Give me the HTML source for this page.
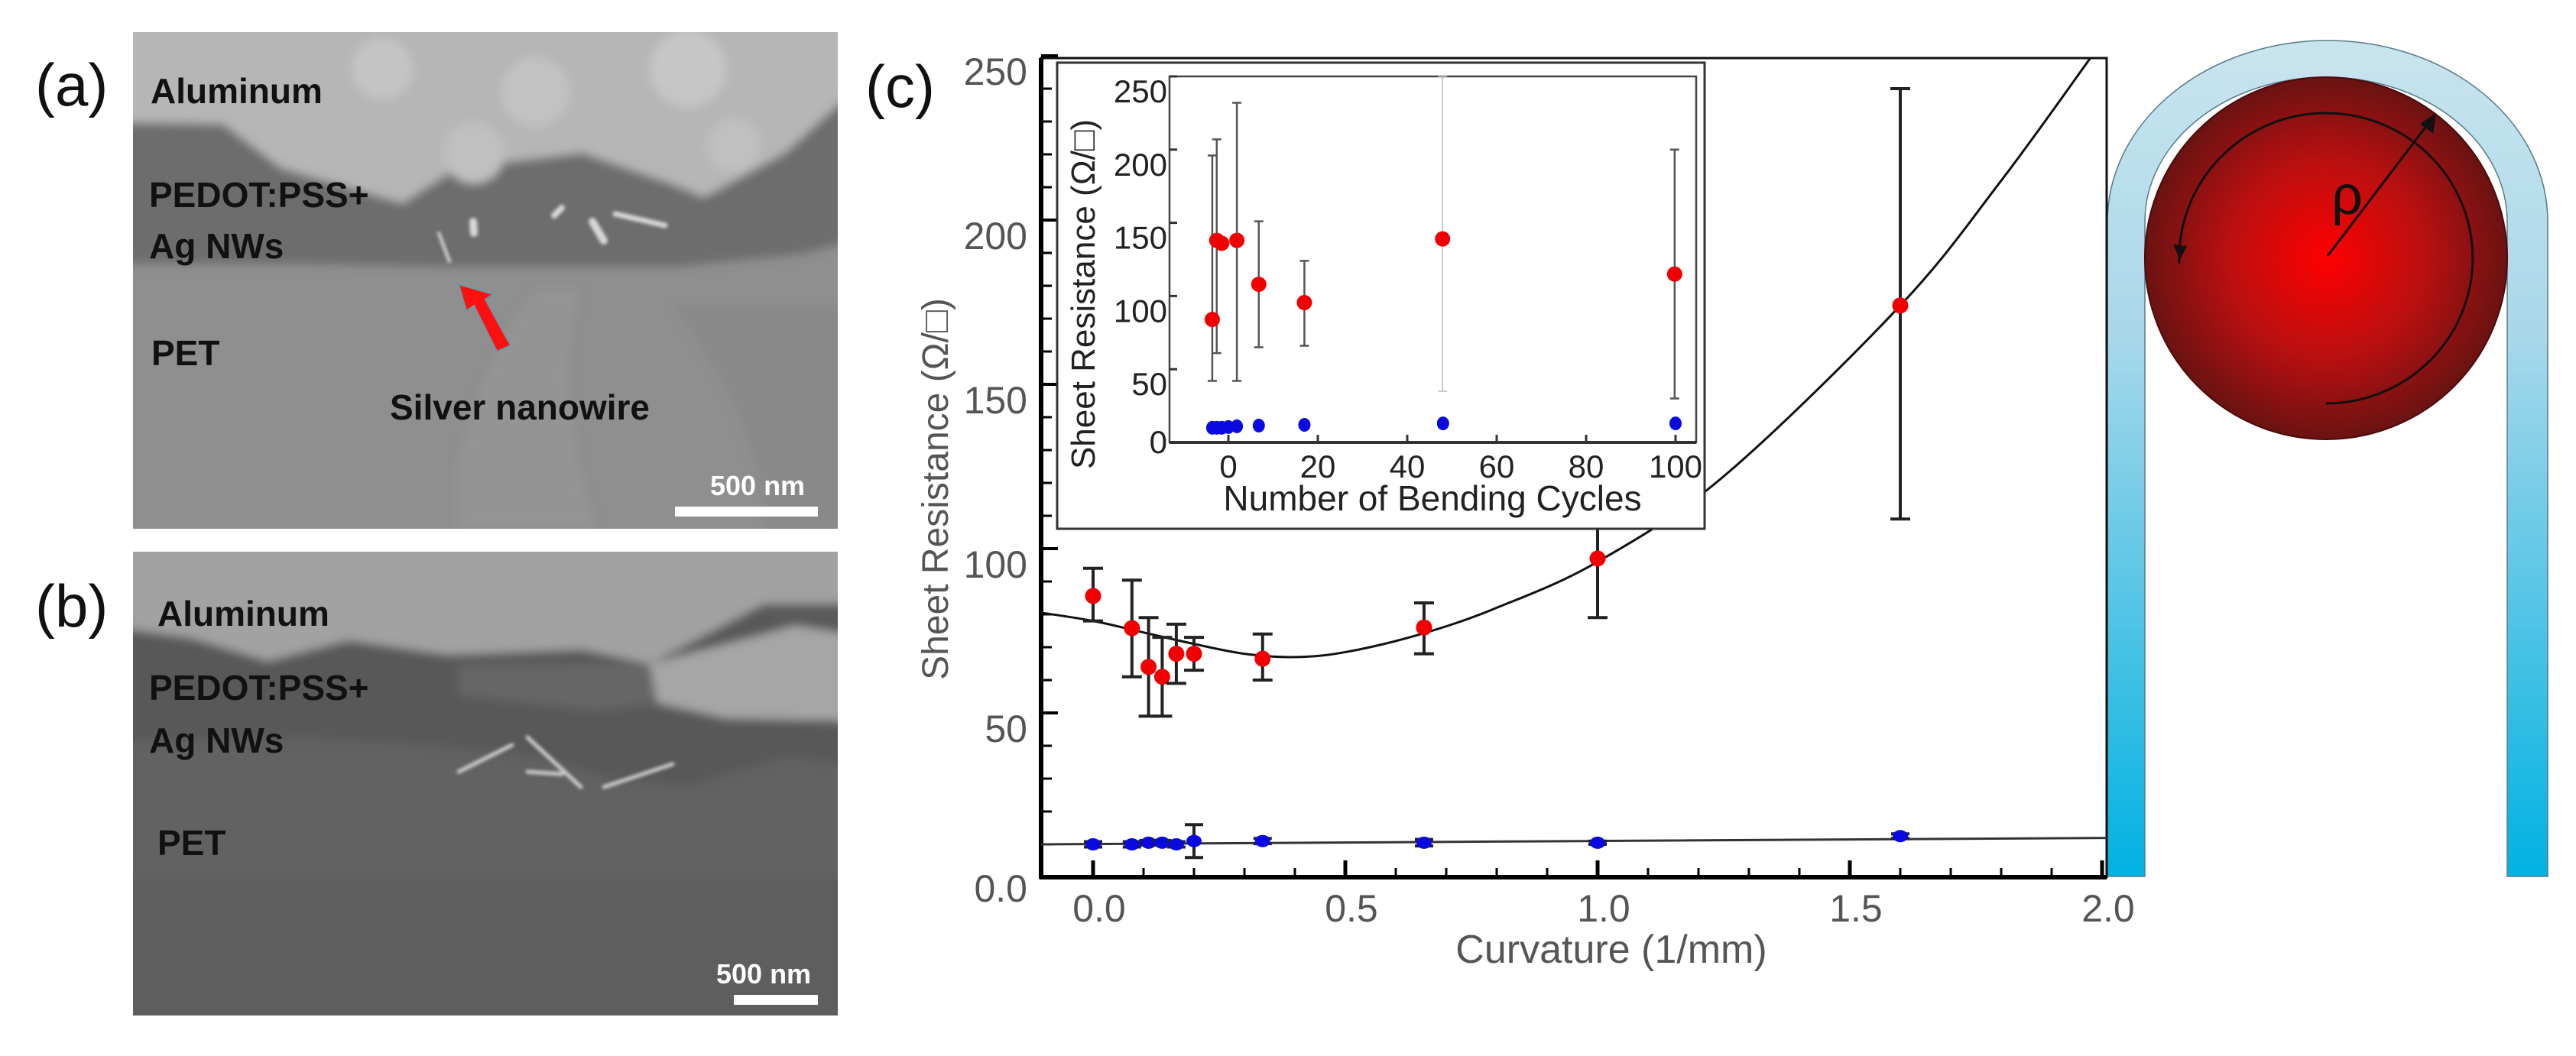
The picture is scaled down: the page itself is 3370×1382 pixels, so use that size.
<!DOCTYPE html>
<html><head><meta charset="utf-8">
<style>
html,body{margin:0;padding:0;background:#fff;}
svg{display:block;}
text{font-family:"Liberation Sans",sans-serif;}
</style></head>
<body>
<svg id="fig" width="3370" height="1382" viewBox="0 0 3370 1382" xmlns="http://www.w3.org/2000/svg">
<defs>
<filter id="blur6" x="-5%" y="-5%" width="110%" height="110%"><feGaussianBlur stdDeviation="6"/></filter>
<filter id="blur2"><feGaussianBlur stdDeviation="2"/></filter>
<clipPath id="clipA"><rect x="174" y="42" width="922" height="650"/></clipPath>
<clipPath id="clipB"><rect x="174" y="722" width="922" height="607"/></clipPath>
<clipPath id="clipMain"><rect x="1362" y="76" width="1394" height="1072"/></clipPath>
<linearGradient id="bandGrad" x1="0" y1="0" x2="0" y2="1">
<stop offset="0" stop-color="#c9e4ee"/><stop offset="0.35" stop-color="#a9d8ea"/><stop offset="1" stop-color="#00b2e2"/></linearGradient>
<radialGradient id="ballGrad" cx="0.5" cy="0.5" r="0.5">
<stop offset="0" stop-color="#ff0000"/><stop offset="0.55" stop-color="#b81010"/><stop offset="1" stop-color="#6a1212"/></radialGradient>
</defs>

<!-- Panel a SEM -->
<g clip-path="url(#clipA)">
<rect x="174" y="42" width="922" height="650" fill="#8f8f8f"/>
<g filter="url(#blur6)">
<path d="M160,30 L1110,30 L1110,125 L1027,200 L921,258 L880,241 L762,200 L597,220 L527,266 L368,220 L292,162 L160,160 Z" fill="#b6b6b6"/>
<path d="M160,160 L292,162 L368,220 L527,266 L597,220 L762,200 L880,241 L921,258 L1027,200 L1110,125 L1110,316 L1050,332 L880,349 L600,349 L400,345 L160,345 Z" fill="#6d6d6d"/>
<circle cx="500" cy="90" r="40" fill="#c4c4c4"/><circle cx="700" cy="120" r="45" fill="#c2c2c2"/><circle cx="900" cy="90" r="50" fill="#c6c6c6"/><circle cx="960" cy="190" r="35" fill="#c0c0c0"/><circle cx="620" cy="200" r="40" fill="#c0c0c0"/>
<path d="M600,600 Q640,450 700,380 L760,380 Q720,500 780,692 L600,692 Z" fill="#9a9a9a" opacity="0.5"/>
<path d="M880,400 Q1000,560 1000,692 L1110,692 L1110,400 Z" fill="#868686" opacity="0.6"/>
</g>
<g filter="url(#blur2)" stroke="#d8d8d8" stroke-linecap="round">
<line x1="574" y1="305" x2="588" y2="342" stroke-width="4"/>
<line x1="619" y1="290" x2="620" y2="305" stroke-width="10"/>
<line x1="725" y1="282" x2="735" y2="272" stroke-width="8"/>
<line x1="775" y1="290" x2="790" y2="315" stroke-width="10"/>
<line x1="805" y1="280" x2="870" y2="295" stroke-width="7"/>
</g>
</g>
<text x="46" y="138" font-size="78" fill="#111">(a)</text>
<g font-weight="bold" font-size="46" fill="#111">
<text x="197" y="135">Aluminum</text>
<text x="195" y="271">PEDOT:PSS+</text>
<text x="195" y="338">Ag NWs</text>
<text x="198" y="478">PET</text>
<text x="510" y="549">Silver nanowire</text>
</g>
<polygon points="600,372 645,385 635,392 668,452 650,460 620,400 610,407" fill="#ff1010" stroke="#6a9aa6" stroke-width="2"/>
<text x="929" y="648" font-size="36" fill="#fff" font-weight="bold">500 nm</text>
<rect x="883" y="663" width="187" height="13" fill="#fff"/>

<!-- Panel b SEM -->
<g clip-path="url(#clipB)">
<rect x="174" y="722" width="922" height="607" fill="#626262"/>
<g filter="url(#blur6)">
<path d="M160,710 L1110,710 L1110,1000 L1030,990 L900,1028 L800,1020 L700,990 L560,975 L400,965 L160,970 Z" fill="#595959"/>
<path d="M160,710 L1110,710 L1110,790 L1000,790 L850,869 L762,850 L586,857 L456,838 L350,865 L250,835 L160,822 Z" fill="#a2a2a2"/>
<path d="M1000,790 L1110,790 L1110,840 L1020,835 Z" fill="#5a5a5a"/>
<path d="M850,869 L1000,830 L1040,819 L1110,830 L1110,943 L950,940 L860,920 Z" fill="#a6a6a6"/>
<path d="M600,870 L850,869 L860,920 L780,930 L600,910 Z" fill="#666"/>
<rect x="160" y="1150" width="950" height="200" fill="#5a5a5a" opacity="0.6"/>
</g>
<g filter="url(#blur2)" stroke="#cfcfcf" stroke-linecap="round" stroke-width="5">
<line x1="600" y1="1010" x2="670" y2="975"/><line x1="690" y1="965" x2="760" y2="1030"/><line x1="790" y1="1030" x2="880" y2="1000"/><line x1="735" y1="1013" x2="690" y2="1010"/>
</g>
</g>
<text x="46" y="820" font-size="78" fill="#111">(b)</text>
<g font-weight="bold" font-size="46" fill="#111">
<text x="206" y="819">Aluminum</text>
<text x="195" y="916">PEDOT:PSS+</text>
<text x="195" y="985">Ag NWs</text>
<text x="206" y="1119">PET</text>
</g>
<text x="937" y="1287" font-size="36" fill="#fff" font-weight="bold">500 nm</text>
<rect x="960" y="1302" width="110" height="13" fill="#fff"/>

<!-- Bending illustration -->
<g>
<path d="M2757,1147 L2757,290 A288,237 0 0 1 3333,290 L3333,1147 L3280,1147 L3280,290 A237,189 0 0 0 2806,290 L2806,1147 Z" fill="url(#bandGrad)" stroke="#5a7a88" stroke-width="1.5"/>
<circle cx="3043" cy="338" r="237" fill="url(#ballGrad)" stroke="#4a0a0a" stroke-width="2"/>
<path d="M2851,345 A192,190 0 1 1 3043,528" fill="none" stroke="#111" stroke-width="3"/>
<polygon points="2843,320 2861,322 2852,340" fill="#111"/>
<line x1="3045" y1="335" x2="3178" y2="160" stroke="#111" stroke-width="3"/>
<polygon points="3187,148 3183,175 3166,162" fill="#111"/>
<text x="3050" y="280" font-size="72" fill="#111">ρ</text>
</g>

<text x="1132" y="140" font-size="78" fill="#111">(c)</text>
<g id="mainChart"></g>
<g id="insetChart"></g>
</svg>

<script>
// ---------- main chart data ----------
const curvX   = [0, 0.077, 0.11, 0.137, 0.165, 0.2, 0.336, 0.656, 1.0, 1.6];
const redVal  = [85.6, 75.8, 64, 61, 68, 68, 66.5, 76, 97, 174];
const redHi   = [94, 90.4, 79, 73, 77, 73, 74, 83.5, 114, 240];
const redLo   = [78, 61, 49, 49, 59, 63, 60, 68, 79, 109];
const blueVal = [10, 10, 10.5, 10.5, 10, 11, 11, 10.5, 10.5, 12.5];
const blueHi  = [10.8, 10.8, 11.2, 11.2, 10.8, 16, 11.8, 11.5, 11, 13.2];
const blueLo  = [9.2, 9.2, 9.8, 9.8, 9.2, 6, 10.2, 9.5, 10, 11.8];
const fitX    = [-0.103, 0, 0.1, 0.2, 0.3, 0.4, 0.5, 0.65, 0.8, 1.0, 1.25, 1.6, 1.8, 1.98, 2.05];
const fitY    = [80.5, 78, 74.5, 71, 68, 67, 68.5, 74, 82, 96, 122, 174, 212, 250, 265];
const blueFitX = [-0.103, 2.05];
const blueFitY = [10, 12];
const xTickLabels = ["0.0", "0.5", "1.0", "1.5", "2.0"];
const xTickVals = [0, 0.5, 1.0, 1.5, 2.0];
const yTickLabels = ["0.0", "50", "100", "150", "200", "250"];
const yTickVals = [0, 50, 100, 150, 200, 250];

// ---------- inset data ----------
const cycX     = [-3.6, -2.6, -1.5, 1.9, 6.8, 17, 47.9, 99.8];
const cycRed   = [84, 138, 136, 138, 108, 95.5, 139, 115];
const cycRedHi = [196, 207, 136, 232, 151, 124, 250, 200];
const cycRedLo = [42, 61, 136, 42, 65, 66, 35, 30];
const cycBlueX = [-3.6, -2.6, -1.5, 0, 1.9, 6.8, 17, 48, 100];
const cycBlue  = [10, 10, 10, 10.5, 11, 11.5, 12, 13, 13];
const inXTickVals = [0, 20, 40, 60, 80, 100];
const inXTickLabels = ["0", "20", "40", "60", "80", "100"];
const inYTickVals = [0, 50, 100, 150, 200, 250];
const inYTickLabels = ["0", "50", "100", "150", "200", "250"];

const NS = "http://www.w3.org/2000/svg";
function mk(parent, tag, attrs) {
  const e = document.createElementNS(NS, tag);
  for (const k in attrs) e.setAttribute(k, attrs[k]);
  parent.appendChild(e);
  return e;
}
function smoothPath(pts) {
  let d = "M" + pts[0][0] + "," + pts[0][1];
  for (let i = 0; i < pts.length - 1; i++) {
    const p0 = pts[i - 1] || pts[i], p1 = pts[i], p2 = pts[i + 1], p3 = pts[i + 2] || p2;
    const c1x = p1[0] + (p2[0] - p0[0]) / 6, c1y = p1[1] + (p2[1] - p0[1]) / 6;
    const c2x = p2[0] - (p3[0] - p1[0]) / 6, c2y = p2[1] - (p3[1] - p1[1]) / 6;
    d += " C" + c1x + "," + c1y + " " + c2x + "," + c2y + " " + p2[0] + "," + p2[1];
  }
  return d;
}

// ---------- main chart ----------
const X0 = 1362, X1 = 2756, YT = 76, YB = 1148;
const xs = v => 1430 + 660 * v;
const ys = v => 1148 - 4.3 * v;
const mc = document.getElementById("mainChart");

let e = mk(mc, "rect", {x: X0, y: YT, width: X1 - X0, height: YB - YT, fill: "#fff", stroke: "#111", "stroke-width": 3});


e = mk(mc, "line", {x1: X0, y1: YT, x2: X0, y2: YB + 2, stroke: "#000", "stroke-width": 6});


e = mk(mc, "line", {x1: X0 - 2, y1: YB, x2: X1, y2: YB, stroke: "#000", "stroke-width": 6});



for (let v = 0; v <= 2.0001; v += 0.1) {
  const major = Math.abs(v * 2 - Math.round(v * 2)) < 1e-6;
  e = mk(mc, "line", {x1: xs(v), y1: YB, x2: xs(v), y2: YB - (major ? 22 : 12), stroke: "#000", "stroke-width": major ? 5 : 3});
  
  
}
for (let v = 10; v <= 250; v += 10) {
  const major = v % 50 === 0;
  e = mk(mc, "line", {x1: X0, y1: ys(v), x2: X0 + (major ? 22 : 14), y2: ys(v), stroke: "#000", "stroke-width": major ? 4 : 3});
  
  
}
xTickVals.forEach((v, i) => {
  const t = mk(mc, "text", {x: xs(v) + 8, y: 1206, "font-size": 50, fill: "#555", "text-anchor": "middle"});
  t.textContent = xTickLabels[i];
  
  
});
yTickVals.forEach((v, i) => {
  const t = mk(mc, "text", {x: 1344, y: ys(v) + (v === 0 ? 32 : 38), "font-size": 50, fill: "#555", "text-anchor": "end"});
  t.textContent = yTickLabels[i];
  
  
});
e = mk(mc, "text", {x: 2108, y: 1260, "font-size": 52, fill: "#555", "text-anchor": "middle"});
e.textContent = "Curvature (1/mm)";


e = mk(mc, "text", {x: 0, y: 0, "font-size": 48, fill: "#555", "text-anchor": "middle", transform: "translate(1240,640) rotate(-90)"});
e.textContent = "Sheet Resistance (Ω/□)";



const clipG = mk(mc, "g", {"clip-path": "url(#clipMain)"});


e = mk(clipG, "path", {d: smoothPath(fitX.map((x, i) => [xs(x), ys(fitY[i])])), fill: "none", stroke: "#111", "stroke-width": 3});


e = mk(clipG, "path", {d: smoothPath(blueFitX.map((x, i) => [xs(x), ys(blueFitY[i])])), fill: "none", stroke: "#333", "stroke-width": 3});



curvX.forEach((x, i) => {
  const cx = xs(x);
  e = mk(clipG, "path", {d: `M${cx},${ys(redHi[i])}V${ys(redLo[i])}M${cx-13},${ys(redHi[i])}H${cx+13}M${cx-13},${ys(redLo[i])}H${cx+13}`, stroke: "#222", "stroke-width": 4, fill: "none"});
  
  
  e = mk(clipG, "circle", {cx: cx, cy: ys(redVal[i]), r: 10.5, fill: "#f00000"});
  
  
  e = mk(clipG, "path", {d: `M${cx},${ys(blueHi[i])}V${ys(blueLo[i])}M${cx-12},${ys(blueHi[i])}H${cx+12}M${cx-12},${ys(blueLo[i])}H${cx+12}`, stroke: "#222", "stroke-width": 4, fill: "none"});
  
  
  e = mk(clipG, "ellipse", {cx: cx, cy: ys(blueVal[i]), rx: 10, ry: 8, fill: "#0a0ae0"});
  
  
});

// ---------- inset chart ----------
const ic = document.getElementById("insetChart");
const IX0 = 1530, IX1 = 2219, IYT = 100, IYB = 579;
const ixs = v => 1607 + 5.85 * v;
const iys = v => 579 - 1.916 * v;
e = mk(ic, "rect", {x: 1383, y: 82, width: 847, height: 610, fill: "#fff", stroke: "#333", "stroke-width": 3});


e = mk(ic, "rect", {x: IX0, y: IYT, width: IX1 - IX0, height: IYB - IYT, fill: "none", stroke: "#444", "stroke-width": 2.5});


e = mk(ic, "line", {x1: IX0, y1: IYB, x2: IX1, y2: IYB, stroke: "#333", "stroke-width": 4});


inXTickVals.forEach((v, i) => {
  e = mk(ic, "line", {x1: ixs(v), y1: IYB, x2: ixs(v), y2: IYB - 10, stroke: "#333", "stroke-width": 3});
  
  
  const t = mk(ic, "text", {x: ixs(v), y: 625, "font-size": 42, fill: "#222", "text-anchor": "middle"});
  t.textContent = inXTickLabels[i];
  
  
});
inYTickVals.forEach((v, i) => {
  e = mk(ic, "line", {x1: IX0, y1: iys(v), x2: IX0 + 10, y2: iys(v), stroke: "#333", "stroke-width": 3});
  
  
  const t = mk(ic, "text", {x: 1527, y: iys(v) + (v === 0 ? 14 : 34), "font-size": 42, fill: "#222", "text-anchor": "end"});
  t.textContent = inYTickLabels[i];
  
  
});
e = mk(ic, "text", {x: 1874, y: 668, "font-size": 46, fill: "#222", "text-anchor": "middle"});
e.textContent = "Number of Bending Cycles";


e = mk(ic, "text", {x: 0, y: 0, "font-size": 44, fill: "#222", "text-anchor": "middle", transform: "translate(1432,385) rotate(-90)"});
e.textContent = "Sheet Resistance (Ω/□)";



cycX.forEach((x, i) => {
  const cx = ixs(x);
  if (cycRedHi[i] !== cycRedLo[i]) {
    e = mk(ic, "path", {d: `M${cx},${iys(cycRedHi[i])}V${iys(cycRedLo[i])}M${cx-6},${iys(cycRedHi[i])}H${cx+6}M${cx-6},${iys(cycRedLo[i])}H${cx+6}`, stroke: i === 6 ? "#bbb" : "#555", "stroke-width": i === 6 ? 1.5 : 2.5, fill: "none"});
    
    
  }
});
cycX.forEach((x, i) => {
  e = mk(ic, "circle", {cx: ixs(x), cy: iys(cycRed[i]), r: 10, fill: "#f00000"});
  
  
});
cycBlueX.forEach((x, i) => {
  e = mk(ic, "ellipse", {cx: ixs(x), cy: iys(cycBlue[i]), rx: 8, ry: 9, fill: "#0a0ae0"});
  
  
});
</script>
</body></html>
